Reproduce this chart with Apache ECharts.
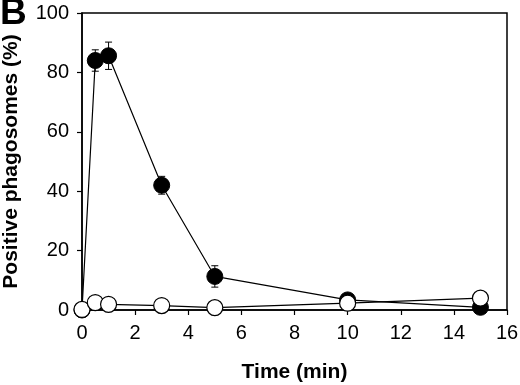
<!DOCTYPE html>
<html>
<head>
<meta charset="utf-8">
<script src="https://cdn.jsdelivr.net/npm/echarts@6/dist/echarts.min.js"></script>
<style>
  html, body { margin: 0; padding: 0; background: #fff; }
  #chart { width: 520px; height: 385px; }
</style>
</head>
<body>
<div id="chart"></div>
<script>
var times = [0, 0.5, 1, 3, 5, 10, 15];
var filledVals = [0, 84, 85.6, 42, 11.3, 3.4, 0.9];
var filledErr = [0, 3.6, 4.6, 3, 3.6, 1, 0];
var openVals = [0.2, 2.5, 1.9, 1.5, 0.8, 2.3, 4.0];
var xTicks = [0, 2, 4, 6, 8, 10, 12, 14, 16];
var yTicks = [0, 20, 40, 60, 80, 100];

var chart = echarts.init(document.getElementById('chart'));

function pairs(xs, ys) {
  return xs.map(function (x, i) { return [x, ys[i]]; });
}

var errData = times.map(function (t, i) {
  return [t, filledVals[i] - filledErr[i], filledVals[i] + filledErr[i]];
});

var font = 'Liberation Sans, Arial, sans-serif';

var option = {
  animation: false,
  grid: {
    left: 82, right: 13, top: 13, bottom: 75,
    outerBoundsMode: 'none',
    show: true, borderColor: '#000', borderWidth: 1.5, backgroundColor: 'transparent'
  },
  graphic: [{
    type: 'text', left: 0, top: -5,
    style: { text: 'B', font: 'bold 37px ' + font, fill: '#000' }
  }],
  xAxis: {
    type: 'value', min: 0, max: 16, interval: 2,
    name: 'Time (min)', nameLocation: 'middle', nameGap: 52,
    nameTextStyle: { fontFamily: font, fontSize: 21, fontWeight: 'bold', color: '#000' },
    axisLine: { onZero: false, lineStyle: { color: '#000', width: 1.5 } },
    axisTick: { show: true, length: 5, lineStyle: { color: '#000', width: 1.2 } },
    axisLabel: { margin: 13, fontFamily: font, fontSize: 20, color: '#000',
      formatter: function (v) { return xTicks.indexOf(v) >= 0 ? String(v) : ''; } },
    splitLine: { show: false }
  },
  yAxis: {
    type: 'value', min: 0, max: 100, interval: 20,
    name: 'Positive phagosomes (%)', nameLocation: 'middle', nameGap: 60,
    nameTextStyle: { fontFamily: font, fontSize: 21, fontWeight: 'bold', color: '#000' },
    axisLine: { show: true, lineStyle: { color: '#000', width: 1.5 } },
    axisTick: { show: true, length: 5, lineStyle: { color: '#000', width: 1.2 } },
    axisLabel: { margin: 13, fontFamily: font, fontSize: 20, color: '#000',
      formatter: function (v) { return yTicks.indexOf(v) >= 0 ? String(v) : ''; } },
    splitLine: { show: false }
  },
  series: [
    {
      type: 'custom',
      data: errData,
      z: 3,
      renderItem: function (params, api) {
        var x = api.value(0);
        var lo = api.coord([x, api.value(1)]);
        var hi = api.coord([x, api.value(2)]);
        var w = 3.5;
        var st = { stroke: '#000', lineWidth: 1 };
        return {
          type: 'group',
          children: [
            { type: 'line', shape: { x1: lo[0], y1: lo[1], x2: hi[0], y2: hi[1] }, style: st },
            { type: 'line', shape: { x1: lo[0] - w, y1: lo[1], x2: lo[0] + w, y2: lo[1] }, style: st },
            { type: 'line', shape: { x1: hi[0] - w, y1: hi[1], x2: hi[0] + w, y2: hi[1] }, style: st }
          ]
        };
      }
    },
    {
      type: 'line',
      data: pairs(times, filledVals),
      z: 4,
      symbol: 'circle', symbolSize: 16,
      lineStyle: { color: '#000', width: 1.2 },
      itemStyle: { color: '#000', borderColor: '#000', borderWidth: 1 }
    },
    {
      type: 'line',
      data: pairs(times, openVals),
      z: 5,
      symbol: 'circle', symbolSize: 16,
      lineStyle: { color: '#000', width: 1.2 },
      itemStyle: { color: '#fff', borderColor: '#000', borderWidth: 1.2 }
    }
  ]
};

chart.setOption(option);
</script>
</body>
</html>
